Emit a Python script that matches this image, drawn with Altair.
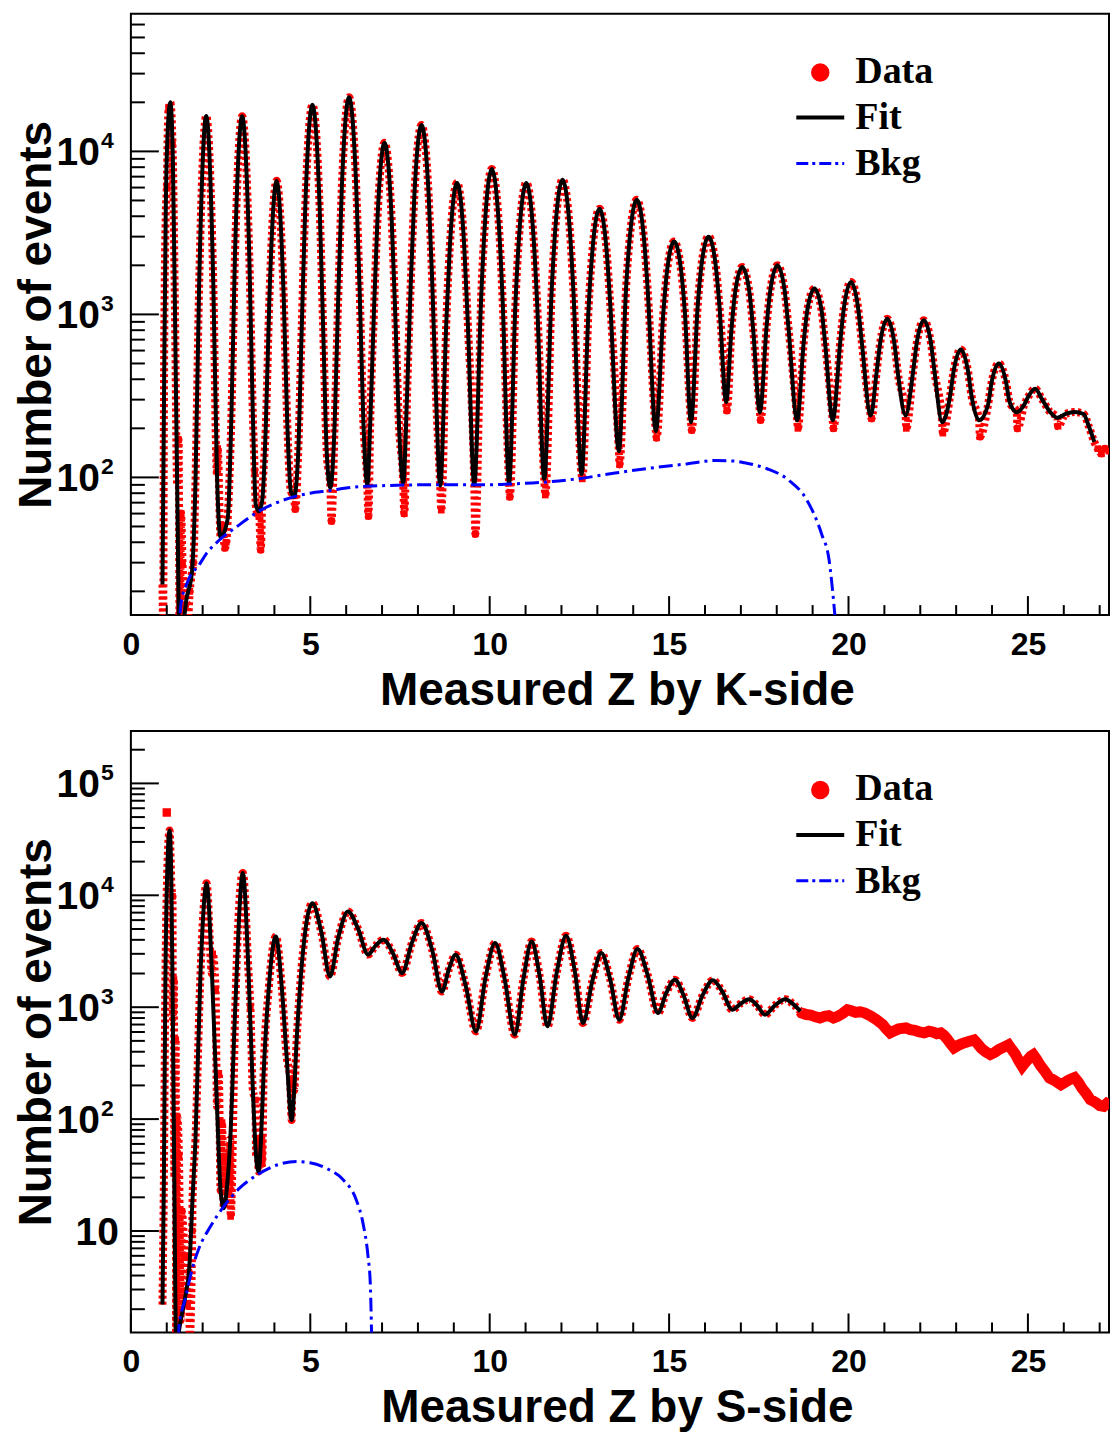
import altair as alt
import pandas as pd

# ---------------- K-side (top panel) ----------------
k_fit_z = [0.88, 0.92, 0.97, 1.03, 1.10, 1.17, 1.23, 1.29, 1.36, 1.55, 1.70, 1.80, 1.90, 2.10, 2.30, 2.40,
           2.50, 2.70, 2.80, 2.90, 3.10, 3.30, 3.40, 3.48, 3.57, 3.66, 3.76, 3.86, 4.06, 4.26, 4.36, 4.46,
           4.55, 4.66, 4.76, 4.86, 5.06, 5.26, 5.36, 5.46, 5.56, 5.68, 5.78, 5.88, 6.08, 6.28, 6.38, 6.48,
           6.59, 6.67, 6.77, 6.87, 7.07, 7.27, 7.37, 7.47, 7.59, 7.70, 7.80, 7.90, 8.10, 8.30, 8.40, 8.50,
           8.62, 8.79, 8.89, 9.09, 9.29, 9.39, 9.57, 9.76, 9.86, 10.06, 10.26, 10.36, 10.54, 10.72, 10.82,
           11.02, 11.22, 11.32, 11.52, 11.73, 11.83, 12.03, 12.23, 12.33, 12.56, 12.76, 12.86, 13.06, 13.26,
           13.36, 13.60, 13.80, 13.90, 14.10, 14.30, 14.40, 14.63, 14.84, 14.94, 15.14, 15.34, 15.44, 15.61,
           15.80, 15.90, 16.10, 16.30, 16.40, 16.59, 16.74, 16.84, 17.04, 17.24, 17.34, 17.53, 17.72, 17.82,
           18.02, 18.22, 18.32, 18.57, 18.75, 18.85, 19.05, 19.25, 19.35, 19.56, 19.77, 19.87, 20.07, 20.27,
           20.37, 20.62, 20.78, 20.88, 21.08, 21.28, 21.38, 21.59, 21.80, 21.90, 22.10, 22.30, 22.40, 22.61,
           22.83, 22.93, 23.13, 23.33, 23.43, 23.64, 23.89, 23.99, 24.19, 24.39, 24.49, 24.69, 24.90, 25.00,
           25.20, 25.40, 25.60, 25.82, 26.05, 26.30, 26.55, 26.70, 26.85]
k_fit_n = [22, 250, 4000, 14000, 20000, 9000, 1000, 90, 9, 18, 26, 94, 1430, 16500, 1440, 104,
           43, 56, 230, 2260, 16400, 2270, 240, 68, 62, 72, 205, 1250, 6600, 1260, 210, 82,
           76, 136, 800, 4560, 19300, 4560, 805, 140, 86, 217, 1300, 6070, 21500, 6070, 1300, 217,
           90, 213, 977, 3740, 11300, 3740, 977, 213, 92, 335, 1550, 5320, 14500, 5320, 1550, 335,
           89, 886, 2625, 6400, 2625, 886, 90, 1230, 3410, 7800, 3410, 1230, 92, 1200, 3030,
           6400, 3030, 1200, 98, 1440, 3370, 6700, 3370, 1440, 105, 1135, 2420, 4450, 2430,
           1150, 145, 1440, 2900, 5050, 2910, 1450, 192, 1030, 1820, 2800, 1820, 1030, 218,
           1150, 1990, 3000, 1990, 1150, 290, 820, 1360, 1950, 1360, 820, 251, 860, 1400,
           2000, 1400, 860, 224, 670, 1055, 1440, 1055, 660, 224, 680, 1090, 1580, 1084,
           676, 240, 435, 662, 940, 660, 430, 240, 445, 665, 920, 660, 440, 218,
           315, 450, 610, 450, 315, 224, 280, 385, 500, 385, 290, 251, 280, 310,
           350, 300, 255, 232, 245, 252, 245, 205, 165]

# data points that lie off the fit curve (valley dips, edges, tail)
k_extra_z = [0.90, 1.00, 1.05, 1.16, 1.33, 1.40, 1.44, 1.50, 1.58, 1.64, 1.74, 2.42, 2.55, 2.62, 2.66,
             3.45, 3.53, 3.62, 4.58, 5.59, 6.62, 7.62, 8.65, 9.60, 10.56, 11.55, 12.58, 13.62, 14.65,
             15.63, 16.61, 17.55, 18.59, 19.58, 20.64, 21.61, 22.63, 23.66, 24.71, 25.84, 26.95, 27.05,
             27.15, 27.26]
k_extra_n = [13, 6000, 18000, 11000, 170, 60, 30, 16, 12, 20, 30, 150, 50, 37, 40,
             110, 60, 36, 64, 54, 58, 60, 63, 45, 76, 78, 98, 120, 175,
             195, 257, 225, 200, 200, 230, 200, 187, 178, 200, 206, 150, 140,
             150, 145]

k_bkg_z = [1.33, 1.40, 1.55, 1.70, 1.85, 2.10, 2.45, 2.96, 3.51, 4.00, 4.53, 5.00, 5.55, 6.00, 6.47,
           7.00, 7.95, 9.00, 10.00, 10.50, 11.40, 12.44, 13.45, 14.47, 15.49, 16.30, 16.80, 17.10, 17.73,
           18.34, 18.85, 19.25, 19.46, 19.60, 19.65]
k_bkg_n = [10, 17, 22, 26, 28, 34, 41, 50, 61, 69, 76, 80, 83, 86, 88,
           89, 90, 90, 90, 91, 93, 98, 106, 114, 121, 127, 126, 123, 113,
           96, 72, 45, 31, 16, 12]

# ---------------- S-side (bottom panel) ----------------
s_fit_z = [0.88, 0.92, 0.96, 1.01, 1.08, 1.13, 1.17, 1.21, 1.26, 1.39, 1.55, 1.62, 1.72, 1.80, 1.94, 2.11,
           2.26, 2.40, 2.50, 2.59, 2.68, 2.77, 2.91, 3.12, 3.28, 3.40, 3.49, 3.56, 3.63, 3.70, 3.84, 4.04,
           4.21, 4.34, 4.48, 4.55, 4.62, 4.76, 5.06, 5.31, 5.55, 5.78, 6.05, 6.33, 6.61, 6.82, 7.04, 7.30,
           7.56, 7.83, 8.10, 8.40, 8.67, 8.86, 9.05, 9.33, 9.62, 9.88, 10.15, 10.42, 10.70, 10.94, 11.17,
           11.39, 11.61, 11.87, 12.13, 12.37, 12.60, 12.86, 13.11, 13.36, 13.61, 13.87, 14.12, 14.40, 14.69,
           14.92, 15.16, 15.40, 15.65, 15.93, 16.22, 16.49, 16.76, 17.00, 17.23, 17.45, 17.67, 17.95, 18.24,
           18.45, 18.66]
s_fit_n = [2.2, 30, 1500, 15000, 38000, 12000, 800, 30, 1.0, 1.6, 3, 4.3, 20, 66, 2020, 12800,
           2000, 130, 23, 16, 25, 66, 1020, 15800, 2000, 180, 46, 34, 70, 257, 1440, 4290,
           1440, 365, 98, 180, 510, 2330, 8500, 4650, 1880, 4200, 7180, 5030, 2950, 3550, 4010, 3050,
           2020, 3740, 5650, 3210, 1380, 2170, 2940, 1560, 608, 1810, 3740, 1760, 568, 1790, 3870,
           1920, 675, 2060, 4350, 2120, 722, 1710, 3050, 1760, 773, 1850, 3310, 1950, 887,
           1340, 1760, 1285, 800, 1275, 1740, 1365, 950, 1080, 1180, 1040, 857, 1040, 1180,
           1070, 918]

s_extra_z = [1.16, 1.20, 1.25, 1.29, 1.34, 1.42, 1.50, 1.58, 1.64, 1.71, 2.28, 2.36, 2.45, 2.54, 2.63,
             2.73, 2.78, 3.33, 3.47, 3.53, 3.62, 3.66, 4.44, 4.50, 4.53]
s_extra_n = [9800, 1760, 510, 105, 47, 15, 6, 2.2, 1.1, 10, 3000, 1450, 257, 93, 47,
             23, 13.5, 1020, 148, 66, 44, 40, 224, 200, 230]

# data beyond the fit range
s_tail_z = [18.66, 18.69, 18.82, 18.95, 19.08, 19.20, 19.33, 19.45, 19.58, 19.70, 19.84, 19.97, 20.08,
            20.20, 20.33, 20.46, 20.63, 20.78, 20.95, 21.05, 21.16, 21.28, 21.40, 21.60, 21.72, 21.85,
            21.98, 22.11, 22.24, 22.35, 22.46, 22.57, 22.66, 22.75, 22.85, 22.94, 23.05, 23.15, 23.26,
            23.37, 23.50, 23.60, 23.70, 23.82, 23.95, 24.08, 24.20, 24.33, 24.46, 24.55, 24.65, 24.75,
            24.84, 24.92, 25.00, 25.08, 25.15, 25.25, 25.35, 25.48, 25.60, 25.70, 25.80, 25.92, 26.00,
            26.10, 26.20, 26.30, 26.40, 26.50, 26.62, 26.74, 26.82, 26.90, 27.00, 27.11, 27.20, 27.26]
s_tail_n = [918, 890, 860, 850, 820, 800, 830, 840, 800, 830, 880, 950, 930,
            900, 910, 887, 830, 773, 700, 640, 590, 615, 640, 652, 630, 620,
            600, 590, 610, 600, 580, 590, 560, 520, 470, 433, 455, 470, 485,
            496, 510, 470, 430, 400, 377, 395, 420, 440, 462, 420, 380, 330,
            296, 320, 340, 365, 377, 340, 300, 265, 233, 225, 215, 203, 210,
            220, 228, 235, 215, 190, 170, 149, 145, 140, 132, 130, 138, 135]

s_spike_z = [1.00]
s_spike_n = [55000]

s_bkg_z = [1.33, 1.34, 1.52, 1.71, 1.89, 2.22, 2.59, 3.05, 3.51, 4.07, 4.62, 4.99, 5.45, 5.91, 6.28,
           6.47, 6.61, 6.67, 6.70, 6.71]
s_bkg_n = [1.1, 1.4, 2.5, 4.6, 6.9, 11, 16.6, 24.5, 31.6, 38.9, 41.7, 40.7, 36.3, 28.8, 19,
           11.7, 5.9, 3.5, 1.6, 1.1]

# ---------------- axes ----------------
x_domain = [0, 27.26]
x_major = [0, 5, 10, 15, 20, 25]
x_minor = [z for z in range(1, 28) if z % 5 != 0]

k_ydomain = [14.3, 70000]
k_major = [100, 1000, 10000]
k_exp = ["2", "3", "4"]
k_minor = [20, 30, 40, 50, 60, 70, 80, 90, 200, 300, 400, 500, 600, 700, 800, 900,
           2000, 3000, 4000, 5000, 6000, 7000, 8000, 9000, 20000, 30000, 40000, 50000, 60000]

s_ydomain = [1.24, 294000]
s_major = [10, 100, 1000, 10000, 100000]
s_exp = ["", "2", "3", "4", "5"]
s_minor = [2, 3, 4, 5, 6, 7, 8, 9, 20, 30, 40, 50, 60, 70, 80, 90, 200, 300, 400, 500, 600, 700, 800, 900,
           2000, 3000, 4000, 5000, 6000, 7000, 8000, 9000, 20000, 30000, 40000, 50000, 60000, 70000,
           80000, 90000, 200000]

W, H = 979, 602
SANS = "Liberation Sans"
SERIF = "Liberation Serif"
RED = "#ff0000"


def panel(fit_z, fit_n, extra_z, extra_n, bkg_z, bkg_n, ydomain, major, exps, minor, xtitle,
          tail_z=None, tail_n=None, spike_z=None, spike_n=None):
    x_enc = alt.X("z:Q", scale=alt.Scale(domain=x_domain, nice=False, zero=False),
                  axis=alt.Axis(values=x_major, ticks=False, domain=False, grid=False,
                                labelFont=SANS, labelFontSize=32, labelFontWeight="bold",
                                labelPadding=14, labelFlush=False, labelOverlap=False,
                                labelColor="black",
                                title=xtitle, titleFont=SANS, titleFontSize=46, titleFontWeight="bold",
                                titleColor="black", titleX=W / 2 - 3, titleY=89, titleAlign="center",
                                titleBaseline="alphabetic", titleAnchor="middle"))
    y_enc = alt.Y("n:Q", scale=alt.Scale(type="log", domain=ydomain, nice=False),
                  axis=alt.Axis(values=major, labels=False, ticks=False, domain=False, grid=False,
                                title="Number of events", titleFont=SANS, titleFontSize=46,
                                titleFontWeight="bold", titleColor="black", titleX=-80, titleY=H / 2,
                                titleAngle=270, titleAlign="center", titleBaseline="alphabetic"))

    fit_df = pd.DataFrame({"z": fit_z, "n": fit_n})
    data_df = pd.DataFrame({"z": list(fit_z) + list(extra_z),
                            "n": list(fit_n) + list(extra_n)}).sort_values("z")
    extra_df = pd.DataFrame({"z": extra_z, "n": extra_n})
    bkg_df = pd.DataFrame({"z": bkg_z, "n": bkg_n})

    layers = []
    # data markers along the fitted region (dense small markers -> dotted red band)
    layers.append(alt.Chart(data_df).mark_line(color=RED, strokeWidth=8, clip=True,
                                               strokeDash=[3, 3], interpolate="monotone")
                  .encode(x=x_enc, y=y_enc))
    layers.append(alt.Chart(extra_df).mark_square(color=RED, size=45, opacity=1, clip=True)
                  .encode(x=x_enc, y=y_enc))
    if tail_z:
        tail_df = pd.DataFrame({"z": tail_z, "n": tail_n})
        layers.append(alt.Chart(tail_df).mark_line(color=RED, strokeWidth=11, clip=True,
                                                   interpolate="linear")
                      .encode(x=x_enc, y=y_enc))
    if spike_z:
        sp_df = pd.DataFrame({"z": spike_z, "n": spike_n})
        layers.append(alt.Chart(sp_df).mark_square(color=RED, size=70, opacity=1, clip=True)
                      .encode(x=x_enc, y=y_enc))
    layers.append(alt.Chart(fit_df).mark_line(color="black", strokeWidth=4, clip=True,
                                              interpolate="monotone")
                  .encode(x=x_enc, y=y_enc))
    layers.append(alt.Chart(bkg_df).mark_line(color="#0000ff", strokeWidth=3, clip=True,
                                              strokeDash=[14, 5, 3, 5], interpolate="monotone")
                  .encode(x=x_enc, y=y_enc))

    # inward ticks
    ymaj = pd.DataFrame({"n": major, "e": exps})
    ymin = pd.DataFrame({"n": minor})
    xmaj = pd.DataFrame({"z": x_major})
    xmin = pd.DataFrame({"z": x_minor})
    layers.append(alt.Chart(ymaj).mark_rule(color="black", strokeWidth=2)
                  .encode(y=y_enc, x=alt.value(0), x2=alt.value(28)))
    layers.append(alt.Chart(ymin).mark_rule(color="black", strokeWidth=2)
                  .encode(y=y_enc, x=alt.value(0), x2=alt.value(14)))
    layers.append(alt.Chart(xmaj).mark_rule(color="black", strokeWidth=2)
                  .encode(x=x_enc, y=alt.value(H), y2=alt.value(H - 19)))
    layers.append(alt.Chart(xmin).mark_rule(color="black", strokeWidth=2)
                  .encode(x=x_enc, y=alt.value(H), y2=alt.value(H - 10)))

    # y tick labels: "10" with superscript exponent
    base = alt.Chart(ymaj)
    layers.append(base.transform_filter("datum.e != ''")
                  .mark_text(text="10", font=SANS, fontSize=39, fontWeight="bold",
                             align="right", baseline="middle", color="black", dy=2)
                  .encode(y=y_enc, x=alt.value(-31)))
    layers.append(base.transform_filter("datum.e == ''")
                  .mark_text(text="10", font=SANS, fontSize=39, fontWeight="bold",
                             align="right", baseline="middle", color="black", dy=2)
                  .encode(y=y_enc, x=alt.value(-12)))
    layers.append(base.transform_filter("datum.e != ''")
                  .mark_text(font=SANS, fontSize=23, fontWeight="bold",
                             align="left", baseline="middle", color="black", dy=-10)
                  .encode(y=y_enc, x=alt.value(-30), text="e:N"))

    # legend
    one = pd.DataFrame({"k": [0]})
    layers.append(alt.Chart(one).mark_point(filled=True, shape="circle", size=340, color=RED, opacity=1)
                  .encode(x=alt.value(690), y=alt.value(59)))
    layers.append(alt.Chart(one).mark_rule(color="black", strokeWidth=4)
                  .encode(x=alt.value(666), x2=alt.value(714), y=alt.value(104)))
    layers.append(alt.Chart(one).mark_rule(color="#0000ff", strokeWidth=3, strokeDash=[12, 4, 3, 4])
                  .encode(x=alt.value(666), x2=alt.value(714), y=alt.value(150)))
    for txt, yy in (("Data", 69), ("Fit", 115), ("Bkg", 162)):
        layers.append(alt.Chart(one).mark_text(text=txt, font=SERIF, fontSize=38, fontWeight="bold",
                                               align="left", baseline="alphabetic", color="black")
                      .encode(x=alt.value(725), y=alt.value(yy)))

    return alt.layer(*layers).properties(width=W, height=H)


top = panel(k_fit_z, k_fit_n, k_extra_z, k_extra_n, k_bkg_z, k_bkg_n, k_ydomain, k_major, k_exp, k_minor,
            "Measured Z by K-side")
bottom = panel(s_fit_z, s_fit_n, s_extra_z, s_extra_n, s_bkg_z, s_bkg_n, s_ydomain, s_major, s_exp, s_minor,
               "Measured Z by S-side", tail_z=s_tail_z, tail_n=s_tail_n,
               spike_z=s_spike_z, spike_n=s_spike_n)

chart = alt.vconcat(top, bottom, spacing=116, bounds="flush").properties(
    padding={"left": 13, "top": 12, "right": 2, "bottom": 4},
    background="white",
).configure_view(stroke="black", strokeWidth=2)

chart.save("out.html", embed_options={"renderer": "svg", "actions": False})
